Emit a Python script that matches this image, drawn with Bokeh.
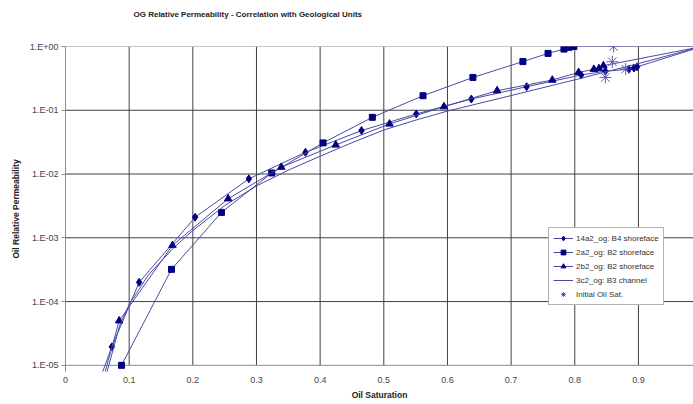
from bokeh.plotting import figure
from bokeh.models import Range1d, FixedTicker, CustomJSTickFormatter, Legend, LegendItem, Title
from bokeh.embed import file_html
from bokeh.resources import INLINE

# Oil saturation vs. oil relative permeability, per geological unit
sat_14a2 = [0.054, 0.0728, 0.1157, 0.2036, 0.288, 0.377, 0.465, 0.551, 0.6375, 0.7243, 0.810, 0.848, 0.885, 0.893, 0.898, 1.0]
kro_14a2 = [6e-6, 1.95e-5, 2.0e-4, 2.1e-3, 8.4e-3, 0.0219, 0.048, 0.0875, 0.150, 0.234, 0.357, 0.41, 0.44, 0.46, 0.48, 1.0]

sat_2a2 = [0.088, 0.1665, 0.245, 0.324, 0.4046, 0.482, 0.5616, 0.640, 0.7185, 0.758, 0.783, 0.791, 0.7986, 1.0]
kro_2a2 = [1.0e-5, 3.2e-4, 2.5e-3, 0.0104, 0.0308, 0.0775, 0.169, 0.327, 0.58, 0.78, 0.91, 0.97, 1.0, 1.0]

sat_2b2 = [0.059, 0.0843, 0.168, 0.2555, 0.339, 0.4245, 0.509, 0.5945, 0.678, 0.7647, 0.806, 0.830, 0.838, 0.845, 1.0]
kro_2b2 = [6e-6, 5.0e-5, 7.6e-4, 4.1e-3, 0.0128, 0.0286, 0.061, 0.114, 0.203, 0.298, 0.392, 0.44, 0.45, 0.50, 1.0]

sat_3c2 = [0.062, 0.085, 0.10, 0.13, 0.17, 0.20, 0.25, 0.30, 0.35, 0.40, 0.45, 0.50, 0.55, 0.60, 0.70, 0.80, 0.90, 1.0]
kro_3c2 = [6e-6, 4.2e-5, 9e-5, 2.6e-4, 7e-4, 1.3e-3, 3.2e-3, 6.5e-3, 1.15e-2, 1.9e-2, 3.1e-2, 4.9e-2, 7.0e-2, 0.097, 0.17, 0.30, 0.54, 1.0]

init_sat = [0.861, 0.859, 0.848, 0.880]
init_kro = [1.0, 0.576, 0.327, 0.443]

x_ticks = [0, 0.1, 0.2, 0.3, 0.4, 0.5, 0.6, 0.7, 0.8, 0.9]
y_ticks = [1e-5, 1e-4, 1e-3, 1e-2, 1e-1, 1e0]

FONT = "Liberation Sans"
NAVY = "#000080"
LINE = "#4a4aa4"

p = figure(width=693, height=404, y_axis_type="log",
           x_range=Range1d(0, 0.9865), y_range=Range1d(8e-6, 1.0),
           output_backend="svg", toolbar_location=None,
           min_border_left=65, min_border_right=0, min_border_top=46, min_border_bottom=33)

p.outline_line_color = None
p.background_fill_color = "white"
p.border_fill_color = "white"
p.xgrid.visible = False
p.ygrid.visible = False

# grid drawn between the first and last decade only
gx = [t for t in x_ticks if t > 0]
p.segment(x0=gx, y0=[y_ticks[0]] * len(gx), x1=gx, y1=[y_ticks[-1]] * len(gx),
          line_color="#404040", line_width=1)
gy = y_ticks[1:-1]
p.segment(x0=[0] * len(gy), y0=gy, x1=[1.0] * len(gy), y1=gy,
          line_color="#404040", line_width=1)
p.segment(x0=[0, 0], y0=[y_ticks[0], y_ticks[-1]], x1=[1.0, 1.0], y1=[y_ticks[0], y_ticks[-1]],
          line_color="#8c8c8c", line_width=1)

# title, with a blank spacer between it and the frame
p.title.text = "OG Relative Permeability - Correlation with Geological Units"
p.title.text_font = FONT
p.title.text_font_size = "8px"
p.title.text_font_style = "bold"
p.title.text_color = "#222222"
p.title.align = "left"
p.title.offset = 68
p.add_layout(Title(text=" ", text_font_size="9.5px"), "above")

# axes
p.xaxis.ticker = FixedTicker(ticks=x_ticks)
p.xaxis.axis_line_color = None
p.xaxis.major_tick_line_color = None
p.xaxis.minor_tick_line_color = None
p.xaxis.major_label_standoff = -1
p.xaxis.axis_label = "Oil Saturation"

p.yaxis.ticker = FixedTicker(ticks=y_ticks)
p.yaxis.formatter = CustomJSTickFormatter(code="""
const e = Math.round(Math.log10(tick));
const s = e >= 0 ? "+" : "-";
return "1.E" + s + String(Math.abs(e)).padStart(2, "0");
""")
p.yaxis.axis_line_color = "#8c8c8c"
p.yaxis.major_tick_line_color = "#8c8c8c"
p.yaxis.major_tick_in = 0
p.yaxis.major_tick_out = 4
p.yaxis.minor_tick_line_color = None
p.yaxis.major_label_standoff = 3
p.yaxis.axis_label = "Oil Relative Permeability"

for ax in (p.xaxis[0], p.yaxis[0]):
    ax.major_label_text_font = FONT
    ax.major_label_text_font_size = "9px"
    ax.major_label_text_color = "#444444"
    ax.axis_label_text_font = FONT
    ax.axis_label_text_font_size = "8.5px"
    ax.axis_label_text_font_style = "bold"
    ax.axis_label_text_color = "#222222"
p.xaxis.axis_label_standoff = 4
p.yaxis.axis_label_standoff = 6

# series
l1 = p.line(sat_14a2, kro_14a2, line_color=LINE, line_width=1)
m1 = p.scatter(sat_14a2, kro_14a2, marker="diamond", size=8, fill_color=NAVY, line_color=NAVY)
l2 = p.line(sat_2a2, kro_2a2, line_color=LINE, line_width=1)
m2 = p.scatter(sat_2a2, kro_2a2, marker="square", size=6, fill_color=NAVY, line_color=NAVY)
l3 = p.line(sat_2b2, kro_2b2, line_color=LINE, line_width=1)
m3 = p.scatter(sat_2b2, kro_2b2, marker="triangle", size=7.5, fill_color=NAVY, line_color=NAVY)
l4 = p.line(sat_3c2, kro_3c2, line_color=LINE, line_width=1)
m5 = p.scatter(init_sat, init_kro, marker="asterisk", size=12, line_color="#5a5ab4", line_width=1)

legend = Legend(items=[
    LegendItem(label="14a2_og: B4 shoreface", renderers=[l1, m1]),
    LegendItem(label="2a2_og: B2 shoreface", renderers=[l2, m2]),
    LegendItem(label="2b2_og: B2 shoreface", renderers=[l3, m3]),
    LegendItem(label="3c2_og: B3 channel", renderers=[l4]),
    LegendItem(label="Initial Oil Sat.", renderers=[m5]),
], location=(483, 66))
legend.label_text_font = FONT
legend.label_text_font_size = "8px"
legend.label_text_color = "#333333"
legend.label_height = 12
legend.label_standoff = 3
legend.glyph_height = 12
legend.glyph_width = 20
legend.spacing = 2
legend.padding = 4
legend.margin = 0
legend.border_line_color = "#666666"
legend.border_line_width = 1
legend.background_fill_color = "white"
legend.background_fill_alpha = 1.0
p.add_layout(legend, "center")

open("out.html", "w").write(file_html(p, INLINE))
